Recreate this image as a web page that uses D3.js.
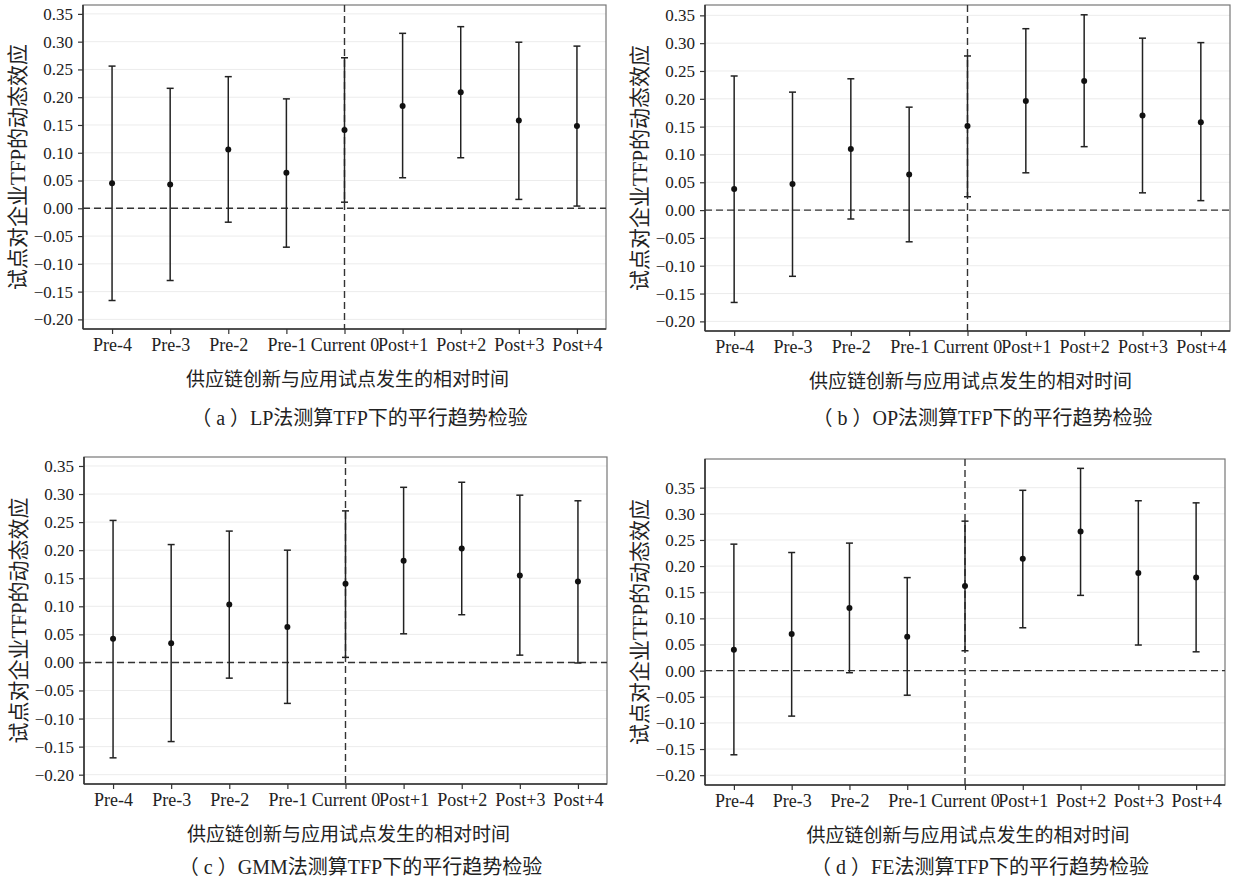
<!DOCTYPE html>
<html>
<head>
<meta charset="utf-8">
<script src="https://cdn.jsdelivr.net/npm/d3@7"></script>
<style>
  body { margin: 0; background: #fff; }
  svg text { font-family: "Liberation Serif", "Noto Sans CJK SC", serif; fill: #222; }
</style>
</head>
<body>
<svg id="chart" width="1236" height="883"></svg>
<script>
// categories and y ticks
const periods = ["Pre-4", "Pre-3", "Pre-2", "Pre-1", "Current 0", "Post+1", "Post+2", "Post+3", "Post+4"];
const yTicks = [-0.20, -0.15, -0.10, -0.05, 0.00, 0.05, 0.10, 0.15, 0.20, 0.25, 0.30, 0.35];

// (a) LP
const lpEst  = [0.045, 0.043, 0.106, 0.064, 0.141, 0.184, 0.209, 0.158, 0.148];
const lpLow  = [-0.166, -0.130, -0.025, -0.070, 0.011, 0.055, 0.091, 0.016, 0.004];
const lpHigh = [0.256, 0.216, 0.237, 0.197, 0.271, 0.315, 0.327, 0.299, 0.292];

// (b) OP
const opEst  = [0.038, 0.047, 0.110, 0.064, 0.151, 0.196, 0.232, 0.170, 0.158];
const opLow  = [-0.166, -0.119, -0.016, -0.057, 0.024, 0.067, 0.114, 0.031, 0.017];
const opHigh = [0.241, 0.212, 0.236, 0.185, 0.277, 0.326, 0.351, 0.309, 0.301];

// (c) GMM
const gmmEst  = [0.042, 0.034, 0.103, 0.063, 0.140, 0.181, 0.203, 0.155, 0.144];
const gmmLow  = [-0.170, -0.141, -0.028, -0.073, 0.009, 0.051, 0.085, 0.013, -0.001];
const gmmHigh = [0.253, 0.210, 0.234, 0.200, 0.270, 0.312, 0.321, 0.298, 0.288];

// (d) FE
const feEst  = [0.040, 0.070, 0.120, 0.065, 0.162, 0.214, 0.266, 0.187, 0.178];
const feLow  = [-0.161, -0.087, -0.004, -0.047, 0.038, 0.082, 0.144, 0.049, 0.036];
const feHigh = [0.242, 0.226, 0.244, 0.178, 0.286, 0.345, 0.387, 0.325, 0.321];

const captions = [
  "（ a ）LP法测算TFP下的平行趋势检验",
  "（ b ）OP法测算TFP下的平行趋势检验",
  "（ c ）GMM法测算TFP下的平行趋势检验",
  "（ d ）FE法测算TFP下的平行趋势检验"
];
const xTitle = "供应链创新与应用试点发生的相对时间";
const yTitle = "试点对企业TFP的动态效应";

// panel boxes (pixels) and y domains
const panels = [
  { est: lpEst, low: lpLow, high: lpHigh, left: 83, right: 606, top: 5, bottom: 329, capY: 418, yDomain: [-0.2173, 0.366] },
  { est: opEst, low: opLow, high: opHigh, left: 705, right: 1230, top: 5, bottom: 331, capY: 418, yDomain: [-0.2173, 0.3686] },
  { est: gmmEst, low: gmmLow, high: gmmHigh, left: 84, right: 607, top: 457, bottom: 784, capY: 867, yDomain: [-0.2166, 0.366] },
  { est: feEst, low: feLow, high: feHigh, left: 705, right: 1225, top: 459, bottom: 785, capY: 867, yDomain: [-0.2188, 0.4049] }
];

const svg = d3.select("#chart");
const fmt = d => (d < -1e-9 ? "\u2212" : "") + d3.format(".2f")(Math.abs(d));

panels.forEach((p, i) => {
  const g = svg.append("g");
  const w = p.right - p.left, h = p.bottom - p.top;

  const x = d3.scalePoint().domain(periods).range([p.left, p.right]).padding(0.5);
  const y = d3.scaleLinear().domain(p.yDomain).range([p.bottom, p.top]);

  // grid lines
  g.selectAll(".grid").data(yTicks).enter().append("line")
    .attr("x1", p.left).attr("x2", p.right)
    .attr("y1", d => y(d)).attr("y2", d => y(d))
    .attr("stroke", "#ececec").attr("stroke-width", 1);

  // panel border
  g.append("rect")
    .attr("x", p.left).attr("y", p.top).attr("width", w).attr("height", h)
    .attr("fill", "none").attr("stroke", "#777").attr("stroke-width", 1.2);

  // reference lines
  g.append("line")
    .attr("x1", p.left).attr("x2", p.right)
    .attr("y1", y(0)).attr("y2", y(0))
    .attr("stroke", "#333").attr("stroke-width", 1.4).attr("stroke-dasharray", "7,4");
  g.append("line")
    .attr("x1", x("Current 0")).attr("x2", x("Current 0"))
    .attr("y1", p.top).attr("y2", p.bottom)
    .attr("stroke", "#333").attr("stroke-width", 1.4).attr("stroke-dasharray", "7,4");

  // axes
  const yAxis = d3.axisLeft(y).tickValues(yTicks).tickSize(5).tickPadding(5).tickFormat(fmt);
  const ya = g.append("g").attr("transform", `translate(${p.left},0)`).call(yAxis);
  const xAxis = d3.axisBottom(x).tickSize(5).tickPadding(4);
  const xa = g.append("g").attr("transform", `translate(0,${p.bottom})`).call(xAxis);
  [ya, xa].forEach(a => {
    a.select(".domain").attr("stroke", "#333").attr("stroke-width", 1.6);
    a.selectAll(".tick line").attr("stroke", "#333").attr("stroke-width", 1.2);
    a.selectAll(".tick text").style("font-size", "18px").attr("fill", "#222");
  });
  ya.selectAll(".tick text").style("font-size", "17px");
  ya.select(".domain").attr("d", `M0,${p.top}V${p.bottom}`);
  xa.select(".domain").attr("d", `M${p.left},0H${p.right}`);

  // error bars
  const idx = d3.range(periods.length);
  const cap = 3.5;
  g.selectAll(".bar").data(idx).enter().append("line")
    .attr("x1", d => x(periods[d])).attr("x2", d => x(periods[d]))
    .attr("y1", d => y(p.low[d])).attr("y2", d => y(p.high[d]))
    .attr("stroke", "#222").attr("stroke-width", 1.5);
  ["low", "high"].forEach(k => {
    g.selectAll(".cap-" + k).data(idx).enter().append("line")
      .attr("x1", d => x(periods[d]) - cap).attr("x2", d => x(periods[d]) + cap)
      .attr("y1", d => y(p[k][d])).attr("y2", d => y(p[k][d]))
      .attr("stroke", "#222").attr("stroke-width", 1.5);
  });
  g.selectAll(".pt").data(idx).enter().append("circle")
    .attr("cx", d => x(periods[d])).attr("cy", d => y(p.est[d]))
    .attr("r", 3).attr("fill", "#111");

  // titles
  const cx = (p.left + p.right) / 2;
  g.append("text")
    .attr("x", cx + 3).attr("y", p.bottom + 50).attr("dy", "0.35em")
    .attr("text-anchor", "middle").style("font-size", "19px")
    .text(xTitle);
  g.append("text")
    .attr("transform", `translate(${p.left - 65},${(p.top + p.bottom) / 2}) rotate(-90)`)
    .attr("dy", "0.35em").attr("text-anchor", "middle").style("font-size", "21px")
    .text(yTitle);
  g.append("text")
    .attr("x", cx + 15).attr("y", p.capY).attr("dy", "0.35em")
    .attr("text-anchor", "middle").style("font-size", "20px")
    .text(captions[i]);
});
</script>
</body>
</html>
